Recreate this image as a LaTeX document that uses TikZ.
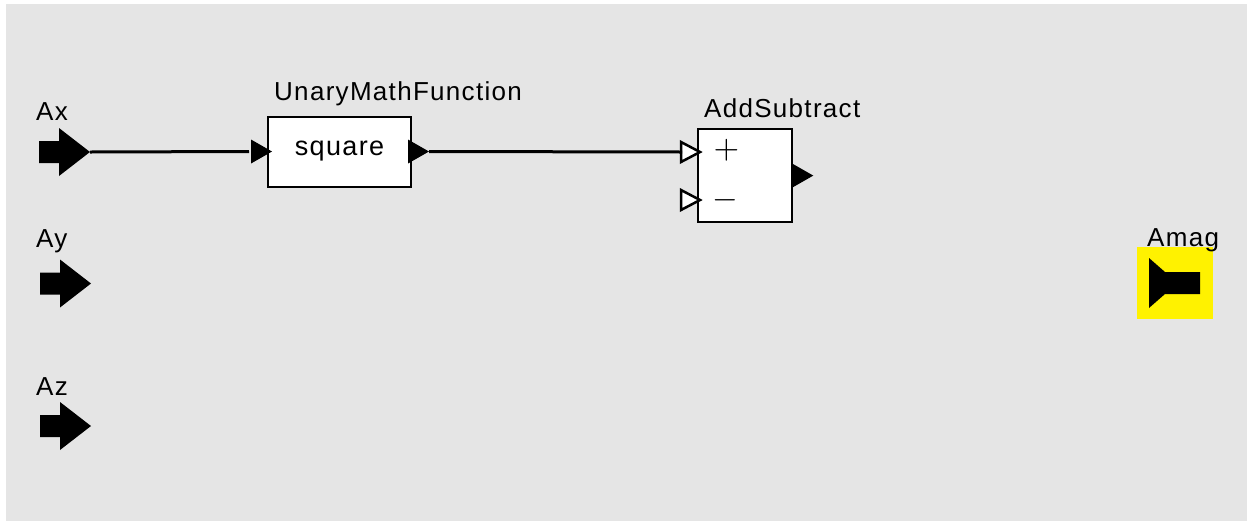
\documentclass[tikz,border=0pt]{standalone}
\usepackage{graphicx}
\usepackage[no-math]{fontspec}
\setmainfont{Liberation Sans}[LetterSpace=5]
\definecolor{bggray}{HTML}{E5E5E5}
\begin{document}
\begin{tikzpicture}[x=1pt,y=-1pt,
  lbl/.style={font=\fontsize{26}{26}\selectfont, anchor=base west, inner sep=0pt},
  block/.style={draw=black, line width=2pt, fill=white, inner sep=0pt},
  wire/.style={line width=3pt},
  inarrow/.pic={\fill[black] (-51,-11) -- (-31,-11) -- (-31,-24) -- (0,0) -- (-31,24) -- (-31,11) -- (-51,11) -- cycle;},
  fullport/.pic={\fill[black] (-21,-12) -- (0,0) -- (-21,12) -- cycle;},
  openport/.pic={\filldraw[draw=black, fill=white, line width=2.5pt, miter limit=10] (-19,-10) -- (0,0) -- (-19,10) -- cycle;},
  sym/.style={font=\normalsize, inner sep=0pt}
]
\useasboundingbox (0,0) rectangle (1253,523);
\fill[white] (0,0) rectangle (1253,523);
\fill[bggray] (6,4) rectangle (1247,521);

% input ports
\coordinate (Ax) at (90,152);
\coordinate (Ay) at (91,283.5);
\coordinate (Az) at (91,426);
\pic at (Ax) {inarrow};
\pic at (Ay) {inarrow};
\pic at (Az) {inarrow};
\node[lbl] (Axl) at (36,120) {Ax};
\node[lbl] (Ayl) at (36,247) {Ay};
\node[lbl] (Azl) at (36,395) {Az};

% UnaryMathFunction block
\node[block, minimum width=143, minimum height=70, font=\fontsize{27}{27}\selectfont] (sq) at (339.5,151.5) {square};
\node[lbl] (sqlbl) at (274,100) {UnaryMathFunction};
\coordinate (sqin) at ([xshift=5pt]sq.west);
\coordinate (sqout) at ([xshift=17pt]sq.east);
\pic at (sqin) {fullport};
\pic at (sqout) {fullport};
\coordinate (sqwire) at ([xshift=-18pt]sq.west);

% AddSubtract block
\node[block, minimum width=94, minimum height=93] (add) at (745.3,175.6) {};
\node[lbl] (addlbl) at (704,117) {AddSubtract};
\coordinate (addp) at (700,152);
\coordinate (addm) at (700,200);
\pic at (addp) {openport};
\pic at (addm) {openport};
\coordinate (addpw) at (682,152);
\coordinate (addout) at ([xshift=20pt]add.east);
\pic at (addout) {fullport};
\node[sym] (plus) at (726.5,150) {\scalebox{3.3}{$+$}};
\node[sym] (minus) at (725.5,200) {\scalebox{3.3}{$-$}};

% wires
\draw[wire] (Ax) -- (sqwire);
\draw[wire] (sqout) -- (addpw);

% output port Amag
\node[fill=yellow, minimum width=76, minimum height=72, inner sep=0pt] (Amag) at (1175,283) {};
\fill[black] (1149,258) -- (1165,272) -- (1200,272) -- (1200,294) -- (1165,294) -- (1149,308) -- cycle;
\node[lbl] (Amagl) at (1147,246) {Amag};
\end{tikzpicture}
\end{document}
